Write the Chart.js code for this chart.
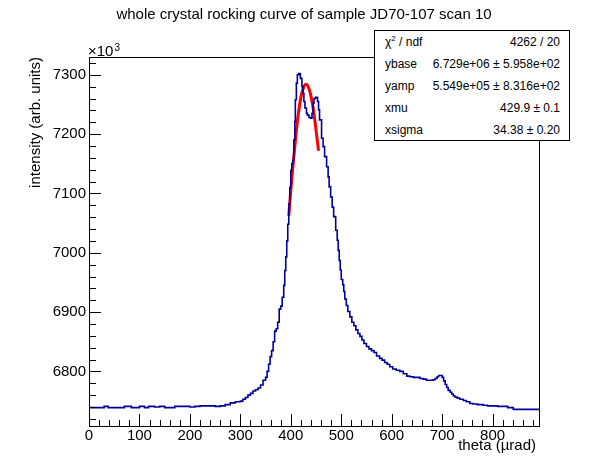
<!DOCTYPE html>
<html>
<head>
<meta charset="utf-8">
<script src="https://cdn.jsdelivr.net/npm/chart.js@4.4.1/dist/chart.umd.min.js"></script>
<style>
  html, body { margin: 0; padding: 0; background: #fff; }
  #wrap { position: relative; width: 598px; height: 474px; }
  #stats {
    position: absolute; left: 374px; top: 30px; width: 196px; height: 111px;
    box-sizing: border-box; border: 1px solid #000; background: #fff;
    font: 12px "Liberation Sans", Arial, sans-serif; color: #000;
  }
  #stats .row { display: flex; justify-content: space-between; height: 22px; line-height: 22px; padding: 0 9px 0 10px; }
  #stats sup { font-size: 8px; line-height: 0; vertical-align: 5px; }
</style>
</head>
<body>
<div id="wrap">
  <canvas id="rocking" width="598" height="474"></canvas>
  <div id="stats">
    <div class="row"><span>&chi;<sup>2</sup> / ndf</span><span>4262 / 20</span></div>
    <div class="row"><span>ybase</span><span>6.729e+06 &plusmn; 5.958e+02</span></div>
    <div class="row"><span>yamp</span><span>5.549e+05 &plusmn; 8.316e+02</span></div>
    <div class="row"><span>xmu</span><span>429.9 &plusmn; 0.1</span></div>
    <div class="row"><span>xsigma</span><span>34.38 &plusmn; 0.20</span></div>
  </div>
</div>
<script>
// histogram (theta in urad, intensity in 10^3 arb. units)
const theta = [0, 10, 20, 30, 38, 46, 60, 70, 84, 94, 100, 110, 118, 130, 140, 150, 160, 170, 180, 190,
  200, 210, 220, 230, 240, 250, 260, 270, 280, 290, 300, 305, 310, 315, 320, 325, 330, 335, 340, 345,
  350, 353, 356, 359, 362, 365, 368, 371, 374, 377, 380, 383, 386, 388, 390, 392, 394, 396, 398, 400,
  402, 404, 406, 408, 409, 411, 413, 416, 419, 422, 424, 426, 428, 431, 433, 436, 439, 442, 444, 446,
  449, 453, 455, 457, 461, 464, 467, 471, 474, 476, 479, 482, 485, 489, 492, 494, 496, 498, 500, 503,
  505, 507, 510, 513, 517, 521, 525, 529, 533, 537, 541, 545, 550, 555, 560, 565, 570, 576, 581, 586,
  591, 596, 602, 609, 616, 623, 630, 636, 643, 649, 656, 662, 669, 676, 682, 686, 690, 693, 696, 700,
  703, 706, 709, 712, 716, 719, 722, 725, 730, 735, 742, 748, 755, 761, 770, 781, 790, 801, 810, 821,
  830, 841, 851, 860, 870, 880, 892];
const intensity = [6739, 6739, 6739, 6739, 6741, 6739, 6739, 6739, 6741, 6739, 6739, 6741, 6739, 6741, 6740, 6741, 6739, 6739, 6741, 6741,
  6741, 6740, 6741, 6742, 6742, 6742, 6741, 6742, 6744, 6747, 6749, 6750, 6753, 6756, 6760, 6763, 6767, 6769, 6772, 6777,
  6785, 6790, 6800, 6812, 6825, 6835, 6850, 6868, 6872, 6883, 6905, 6910, 6925, 6945, 6970, 6993, 7020, 7048, 7082, 7110,
  7139, 7150, 7156, 7190, 7221, 7258, 7286, 7300, 7302, 7294, 7280, 7269, 7255, 7244, 7235, 7232, 7228, 7227, 7235, 7252,
  7260, 7262, 7255, 7241, 7224, 7193, 7179, 7162, 7145, 7128, 7111, 7094, 7077, 7061, 7038, 7021, 7004, 6987, 6971, 6955,
  6946, 6935, 6922, 6911, 6901, 6892, 6883, 6877, 6870, 6864, 6859, 6853, 6847, 6842, 6838, 6835, 6832, 6826, 6822, 6819,
  6815, 6812, 6808, 6804, 6802, 6800, 6796, 6792, 6791, 6790, 6790, 6788, 6787, 6785, 6785, 6786, 6788, 6791, 6793, 6793,
  6790, 6784, 6778, 6773, 6768, 6765, 6762, 6759, 6757, 6755, 6753, 6751, 6749, 6746, 6745, 6744, 6743, 6742, 6742, 6741,
  6741, 6739, 6736, 6736, 6736, 6736, 6736];

// gaussian fit curve as drawn (red)
const fitTheta = [396, 400, 405, 410, 415, 420, 425, 430, 435, 440, 445, 450, 455];
const fitIntensity = [7062, 7105, 7153, 7197, 7235, 7262, 7278, 7284, 7279, 7264, 7240, 7207, 7172];

const xTicks = [0, 100, 200, 300, 400, 500, 600, 700, 800];
const yTicks = [6800, 6900, 7000, 7100, 7200, 7300];
const xRange = [0, 892];
const yRange = [6708, 7330];

const FONT = '"Liberation Sans", Arial, sans-serif';

const rootFrame = {
  id: 'rootFrame',
  afterDraw(chart) {
    const { ctx, chartArea: a, scales: { x, y } } = chart;
    ctx.save();
    ctx.strokeStyle = '#000';
    ctx.lineWidth = 1;
    ctx.strokeRect(Math.round(a.left) + 0.5, Math.round(a.top) + 0.5,
      Math.round(a.right - a.left), Math.round(a.bottom - a.top));

    ctx.beginPath();
    // x ticks (inside, from the bottom)
    for (let v = xRange[0]; v <= xRange[1]; v += 20) {
      const px = Math.round(x.getPixelForValue(v)) + 0.5;
      const len = v % 100 === 0 ? 12 : 6;
      ctx.moveTo(px, a.bottom);
      ctx.lineTo(px, a.bottom - len);
    }
    // y ticks (inside, from the left)
    for (let v = 6720; v <= yRange[1]; v += 20) {
      const py = Math.round(y.getPixelForValue(v)) + 0.5;
      const len = v % 100 === 0 ? 12 : 7;
      ctx.moveTo(a.left, py);
      ctx.lineTo(a.left + len, py);
    }
    ctx.stroke();

    ctx.fillStyle = '#000';
    ctx.font = '15px ' + FONT;
    ctx.textAlign = 'center';
    ctx.textBaseline = 'middle';
    xTicks.forEach(v => ctx.fillText(String(v), x.getPixelForValue(v), 436));
    ctx.textAlign = 'right';
    yTicks.forEach(v => ctx.fillText(String(v), a.left - 3, y.getPixelForValue(v)));

    // axis titles
    ctx.textBaseline = 'alphabetic';
    ctx.fillText('theta (\u00b5rad)', 536, 450);
    ctx.save();
    ctx.translate(40, a.top);
    ctx.rotate(-Math.PI / 2);
    ctx.textAlign = 'right';
    ctx.fillText('intensity (arb. units)', 0, 0);
    ctx.restore();

    // exponent label
    ctx.textAlign = 'left';
    ctx.font = '15px ' + FONT;
    ctx.fillText('\u00d710', 88, 55.5);
    ctx.font = '10px ' + FONT;
    ctx.fillText('3', 114.5, 51);

    // title
    ctx.font = '15px ' + FONT;
    ctx.textAlign = 'center';
    ctx.fillText('whole crystal rocking curve of sample JD70-107 scan 10', 304, 19);
    ctx.restore();
  }
};

new Chart(document.getElementById('rocking'), {
  type: 'line',
  data: {
    datasets: [
      {
        label: 'scan 10',
        data: theta.map((t, i) => ({ x: t, y: intensity[i] })),
        borderColor: '#000099',
        borderWidth: 1.6,
        stepped: 'after',
        pointRadius: 0,
        fill: false
      },
      {
        label: 'fit',
        data: fitTheta.map((t, i) => ({ x: t, y: fitIntensity[i] })),
        borderColor: '#ff0000',
        borderWidth: 3,
        cubicInterpolationMode: 'monotone',
        pointRadius: 0,
        fill: false
      }
    ]
  },
  options: {
    responsive: false,
    animation: false,
    devicePixelRatio: 1,
    layout: { padding: { left: 89, right: 59, top: 57, bottom: 48 } },
    scales: {
      x: { type: 'linear', min: xRange[0], max: xRange[1], display: false },
      y: { type: 'linear', min: yRange[0], max: yRange[1], display: false }
    },
    plugins: {
      legend: { display: false },
      tooltip: { enabled: false }
    }
  },
  plugins: [rootFrame]
});
</script>
</body>
</html>
